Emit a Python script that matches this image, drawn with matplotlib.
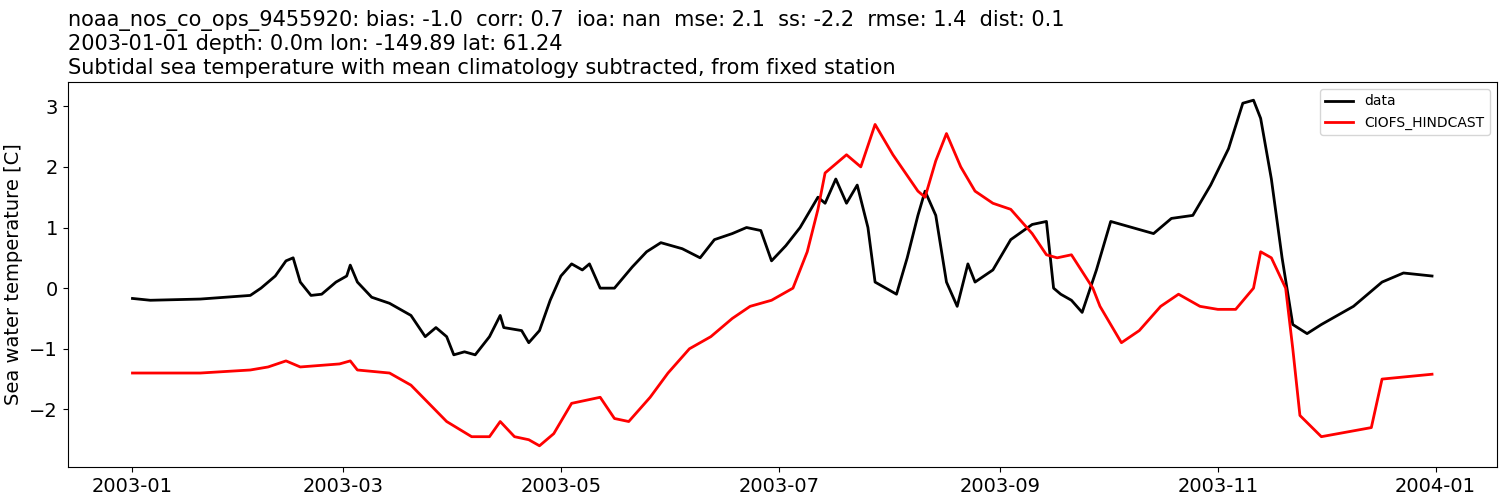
import numpy as np
import matplotlib
matplotlib.use("Agg")
import matplotlib.pyplot as plt
import matplotlib.dates as mdates
import datetime

start = datetime.datetime(2003, 1, 1)

# day of year / value
data_days = [0, 5, 19, 33, 36, 40, 43, 45, 47, 50, 53, 57, 60, 61, 63, 67, 72, 78, 82, 85,
             88, 90, 93, 96, 100, 103, 104, 109, 111, 114, 117, 120, 123, 126, 128, 131, 135,
             140, 144, 148, 154, 159, 163, 168, 172, 176, 179, 183, 187, 192, 194, 197, 200,
             203, 206, 208, 211, 214, 217, 220, 222, 225, 228, 231, 234, 236, 241, 246, 252,
             256, 258, 260, 263, 266, 270, 274, 280, 286, 291, 297, 302, 307, 311, 314, 316,
             319, 322, 325, 329, 333, 342, 350, 356, 364]
data_vals = [-0.17, -0.2, -0.18, -0.12, 0.0, 0.2, 0.45, 0.5, 0.1, -0.12, -0.1, 0.1, 0.2, 0.38,
             0.1, -0.15, -0.25, -0.45, -0.8, -0.65, -0.8, -1.1, -1.05, -1.1, -0.8, -0.45, -0.65,
             -0.7, -0.9, -0.7, -0.2, 0.2, 0.4, 0.3, 0.4, 0.0, 0.0, 0.35, 0.6, 0.75, 0.65, 0.5,
             0.8, 0.9, 1.0, 0.95, 0.45, 0.7, 1.0, 1.5, 1.4, 1.8, 1.4, 1.7, 1.0, 0.1, 0.0, -0.1,
             0.5, 1.2, 1.6, 1.2, 0.1, -0.3, 0.4, 0.1, 0.3, 0.8, 1.05, 1.1, 0.0, -0.1, -0.2,
             -0.4, 0.3, 1.1, 1.0, 0.9, 1.15, 1.2, 1.7, 2.3, 3.05, 3.1, 2.8, 1.8, 0.5, -0.6,
             -0.75, -0.6, -0.3, 0.1, 0.25, 0.2]

model_days = [0, 19, 33, 38, 43, 47, 58, 61, 63, 72, 78, 83, 88, 95, 100, 103, 107, 111,
              114, 118, 123, 131, 135, 139, 145, 150, 156, 162, 168, 173, 179, 185, 189, 192,
              194, 200, 204, 208, 213, 220, 222, 225, 228, 232, 236, 241, 246, 252, 256, 259,
              263, 269, 271, 277, 282, 288, 293, 299, 304, 309, 314, 316, 319, 323, 325, 327,
              333, 347, 350, 364]
model_vals = [-1.4, -1.4, -1.35, -1.3, -1.2, -1.3, -1.25, -1.2, -1.35, -1.4, -1.6, -1.9, -2.2,
              -2.45, -2.45, -2.2, -2.45, -2.5, -2.6, -2.4, -1.9, -1.8, -2.15, -2.2, -1.8, -1.4,
              -1.0, -0.8, -0.5, -0.3, -0.2, 0.0, 0.6, 1.3, 1.9, 2.2, 2.0, 2.7, 2.2, 1.6, 1.5,
              2.1, 2.55, 2.0, 1.6, 1.4, 1.3, 0.9, 0.55, 0.5, 0.55, 0.0, -0.3, -0.9, -0.7, -0.3,
              -0.1, -0.3, -0.35, -0.35, 0.0, 0.6, 0.5, 0.0, -1.0, -2.1, -2.45, -2.3, -1.5,
              -1.42, -1.4][:70]

data_t = [start + datetime.timedelta(days=d) for d in data_days]
model_t = [start + datetime.timedelta(days=d) for d in model_days]

plt.rcParams["font.size"] = 14
fig = plt.figure(figsize=(15, 5), dpi=100)
ax = fig.add_axes([0.045, 0.066, 0.953, 0.77])
ax.plot(data_t, data_vals, color="k", lw=2, label="data")
ax.plot(model_t, model_vals, color="r", lw=2, label="CIOFS_HINDCAST")
ax.set_ylabel("Sea water temperature [C]")
ax.xaxis.set_major_locator(mdates.MonthLocator(bymonth=[1, 3, 5, 7, 9, 11]))
ax.xaxis.set_major_formatter(mdates.DateFormatter("%Y-%m"))
ax.set_ylim(-2.95, 3.4)
ax.legend(loc="upper right", fontsize=10)
ax.set_title("noaa_nos_co_ops_9455920: bias: -1.0  corr: 0.7  ioa: nan  mse: 2.1  ss: -2.2  rmse: 1.4  dist: 0.1\n"
             "2003-01-01 depth: 0.0m lon: -149.89 lat: 61.24\n"
             "Subtidal sea temperature with mean climatology subtracted, from fixed station",
             loc="left", fontsize=15)
fig.savefig("out.png")
